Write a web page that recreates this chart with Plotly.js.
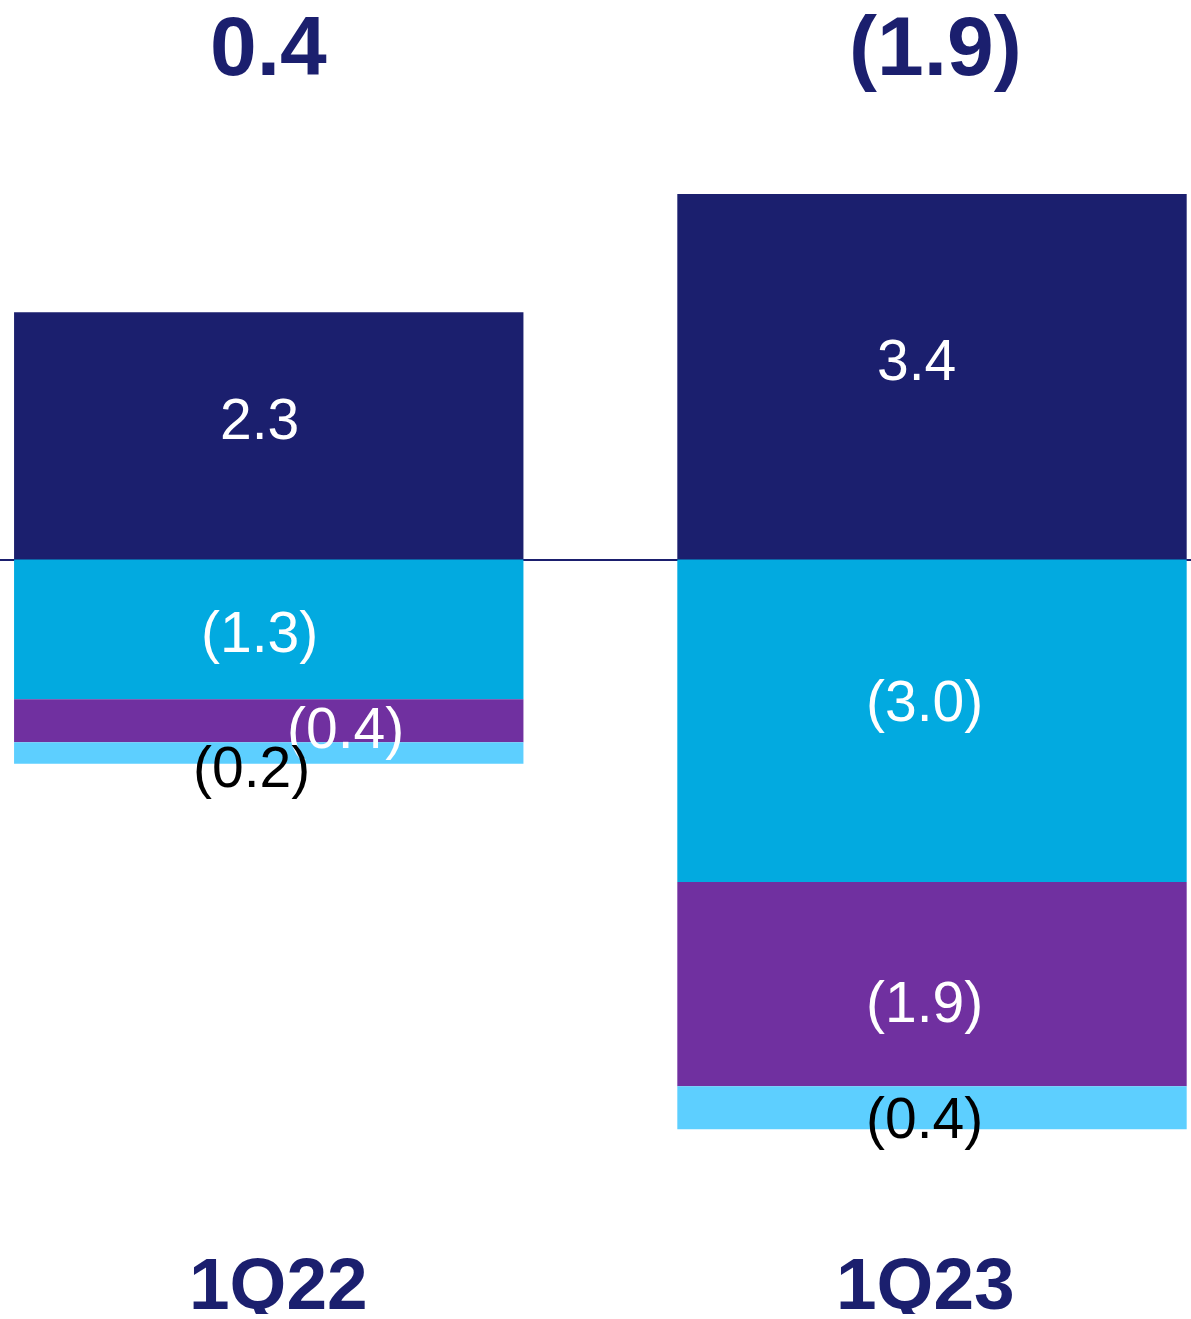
<!DOCTYPE html>
<html>
<head>
<meta charset="utf-8">
<script src="https://cdn.plot.ly/plotly-3.0.1.min.js"></script>
<style>html,body{margin:0;padding:0;background:#fff;}#chart{width:1191px;height:1319px;}</style>
</head>
<body>
<div id="chart"></div>
<script>
// ---- data ----
const categories = ["1Q22", "1Q23"];
const seriesA = [2.3, 3.4];     // navy (positive)
const seriesB = [-1.3, -3.0];   // cyan
const seriesC = [-0.4, -1.9];   // purple
const seriesD = [-0.2, -0.4];   // light blue

// ---- styles ----
const colors = ["#1B1F6E", "#02AAE0", "#7030A0", "#5DCFFF"];
const labelColors = ["#FFFFFF", "#FFFFFF", "#FFFFFF", "#000000"];
const navy = "#1B1F6E";
const font = "Liberation Sans, Arial, sans-serif";
// pixel shifts for segment labels [series][category] -> [xshift, yshift]
const labelShifts = [
  [[-9, 17], [-16, 17]],
  [[-9, -3], [-8, 20]],
  [[77, -7], [-8, -18]],
  [[-17, -14], [-8, -10]]
];
const catShifts = [10, -7];
const totalShifts = [0, 3];

const series = [seriesA, seriesB, seriesC, seriesD];
const fmt = v => v < 0 ? "(" + Math.abs(v).toFixed(1) + ")" : v.toFixed(1);

const traces = series.map((s, i) => ({
  type: "bar",
  x: categories,
  y: s,
  marker: {color: colors[i], line: {width: 0}},
  hoverinfo: "skip"
}));

const annotations = [];
categories.forEach((c, j) => {
  let pos = 0, neg = 0;
  series.forEach((s, i) => {
    const v = s[j];
    let mid;
    if (v >= 0) { mid = pos + v / 2; pos += v; }
    else { mid = neg + v / 2; neg += v; }
    annotations.push({
      x: c, y: mid, xref: "x", yref: "y",
      text: fmt(v), showarrow: false,
      xshift: labelShifts[i][j][0], yshift: labelShifts[i][j][1],
      font: {family: font, size: 57, color: labelColors[i]}
    });
  });
  const total = series.reduce((a, s) => a + s[j], 0);
  annotations.push({
    x: c, y: 1 - 46 / 1319, xref: "x", yref: "paper", yanchor: "middle",
    text: "<b>" + fmt(Math.round(total * 10) / 10) + "</b>", showarrow: false,
    xshift: totalShifts[j],
    font: {family: font, size: 84, color: navy}
  });
  annotations.push({
    x: c, y: 1 - 1283 / 1319, xref: "x", yref: "paper", yanchor: "middle",
    height: 62, valign: "middle",
    text: "<b>" + c + "</b>", showarrow: false,
    xshift: catShifts[j],
    font: {family: font, size: 73, color: navy}
  });
});

const layout = {
  width: 1191, height: 1319,
  margin: {l: 0, r: 0, t: 0, b: 0, pad: 0},
  paper_bgcolor: "#fff", plot_bgcolor: "#fff",
  barmode: "relative",
  bargap: 0.232,
  showlegend: false,
  xaxis: {type: "category", range: [-0.4052, 1.3905], showticklabels: false,
          showgrid: false, zeroline: false, showline: false, ticks: ""},
  yaxis: {range: [-7.065, 5.205], showticklabels: false, showgrid: false,
          zeroline: true, zerolinecolor: navy, zerolinewidth: 2,
          showline: false, ticks: ""},
  annotations: annotations
};

Plotly.newPlot("chart", traces, layout, {staticPlot: true, displayModeBar: false});
</script>
</body>
</html>
